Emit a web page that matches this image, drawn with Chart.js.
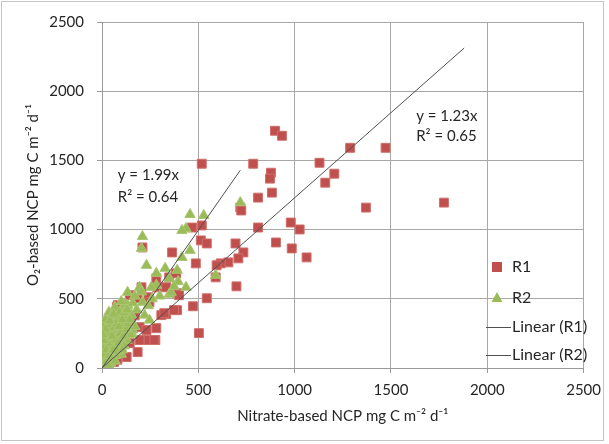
<!DOCTYPE html>
<html>
<head>
<meta charset="utf-8">
<script src="https://cdn.jsdelivr.net/npm/chart.js@4.4.0/dist/chart.umd.min.js"></script>
<style>
  body { margin: 0; background: #fff; }
  canvas { display: block; }
</style>
</head>
<body>
<canvas id="myChart" width="609" height="444"></canvas>
<script>
// R1 points [nitrate NCP, O2 NCP]
var r1Data = [
	[518,1476],[785,1476],[898,1714],[934,1678],[877,1411],[872,1368],[882,1267],[810,1231],
	[718,1159],[723,1138],[810,1015],[980,1051],[1026,1001],[903,907],[985,864],[1062,799],
	[693,900],[734,835],[708,792],[656,763],[616,756],[595,742],[590,655],[698,590],
	[544,504],[472,446],[390,418],[467,1015],[518,1030],[513,922],[544,900],[487,756],
	[364,835],[210,871],[205,583],[282,648],[349,655],[385,684],[333,583],[287,583],
	[241,511],[246,475],[390,540],[333,389],[308,382],[185,504],[144,526],[77,439],
	[56,367],[15,310],[5,200],[195,295],[231,274],[282,288],[241,202],[195,202],
	[144,180],[503,252],[277,202],[128,79],[62,43],[31,238],[1129,1483],[1206,1404],
	[1159,1339],[1288,1591],[1472,1591],[1370,1159],[1775,1195],[82,454],[272,202],[400,526],
	[374,418],[323,396],[185,115],[67,115],[20,150],[40,100],[80,60],[100,140],
	[120,250],[60,300],[30,330],[90,350],[150,330],[170,380],[110,190],[50,180],[10,120]
];

// R2 points
var r2Data = [
	[718,1195],[457,1109],[528,1102],[436,1008],[415,994],[457,850],[210,950],[205,864],
	[415,799],[231,742],[328,720],[390,706],[282,684],[590,670],[349,648],[395,625],
	[282,598],[256,583],[436,583],[195,583],[349,533],[359,547],[374,590],[133,547],
	[205,550],[210,475],[118,439],[144,403],[103,432],[36,403],[154,252],[57,180],
	[3,58],[67,439],[15,331],[133,454],[154,382],[221,382],[246,346],[159,274],
	[133,252],[10,20],[20,40],[15,80],[30,60],[40,120],[25,150],[50,100],
	[60,160],[45,200],[70,210],[35,250],[80,280],[90,230],[20,200],[55,270],
	[75,140],[100,190],[110,300],[65,330],[85,370],[40,300],[12,260],[95,320],
	[120,350],[30,180],[8,140],[60,60],[100,100],[130,200],[140,300],[25,110],
	[45,35],[70,90],[115,160],[150,240],[5,300],[18,350],[90,400],[50,380],
	[170,300],[180,420],[120,460],[160,470],[240,450],[260,500],[300,520],[170,520],[100,480],
	[5,10],[15,30],[25,50],[35,20],[10,100],[22,130],[35,90],[48,70],
	[58,130],[68,50],[80,120],[85,180],[95,250],[105,130],[110,230],[125,280],
	[135,320],[145,350],[28,220],[42,260],[52,230],[62,290],[75,320],[88,300],
	[105,350],[115,400],[130,420],[18,280],[8,200],[5,240],[40,340],[60,390]
];

// trendline end points
var fitR1X = [0, 1880];
var fitR1Y = [0, 2312];
var fitR2X = [0, 718];
var fitR2Y = [0, 1429];

var axisMin = 0;
var axisMax = 2500;
var axisStep = 500;

var xTitle = "Nitrate-based NCP mg C m\u207B\u00B2 d\u207B\u00B9";
var yTitle = "O\u2082-based NCP mg C m\u207B\u00B2 d\u207B\u00B9";

var eqR2 = ["y = 1.99x", "R\u00B2 = 0.64"];
var eqR1 = ["y = 1.23x", "R\u00B2 = 0.65"];

var FONT = "Lato, 'Liberation Sans', sans-serif";
var RED = "#c0504d";
var GREEN = "#9bbb59";
var LINE = "#505050";

function toXY(list) {
	return list.map(function(p){ return {x: p[0], y: p[1]}; });
}
function zipXY(xs, ys) {
	return xs.map(function(x, i){ return {x: x, y: ys[i]}; });
}

var extras = {
	id: "extras",
	beforeDraw: function(chart) {
		var ctx = chart.ctx;
		ctx.save();
		ctx.fillStyle = "#fff";
		ctx.fillRect(0, 0, chart.width, chart.height);
		ctx.strokeStyle = "#c4c4c4";
		ctx.lineWidth = 1;
		ctx.strokeRect(1.5, 1.5, 602, 439);
		ctx.restore();
	},
	afterDraw: function(chart) {
		var ctx = chart.ctx;
		var xs = chart.scales.x, ys = chart.scales.y;
		ctx.save();
		ctx.font = "15px " + FONT;
		ctx.fillStyle = "#262626";
		ctx.textBaseline = "middle";
		ctx.textAlign = "left";
		// equations
		ctx.fillText(eqR2[0], xs.getPixelForValue(82), ys.getPixelForValue(1390));
		ctx.fillText(eqR2[1], xs.getPixelForValue(82), ys.getPixelForValue(1231));
		ctx.fillText(eqR1[0], xs.getPixelForValue(1631), ys.getPixelForValue(1822));
		ctx.fillText(eqR1[1], xs.getPixelForValue(1631), ys.getPixelForValue(1678));

		// legend
		var lx = 497, tx = 512;
		var rows = [267, 298, 327, 355];
		ctx.fillStyle = RED;
		ctx.fillRect(lx - 5, rows[0] - 5, 10, 10);
		ctx.fillStyle = GREEN;
		ctx.beginPath();
		ctx.moveTo(lx, rows[1] - 6);
		ctx.lineTo(lx + 5.5, rows[1] + 4);
		ctx.lineTo(lx - 5.5, rows[1] + 4);
		ctx.closePath();
		ctx.fill();
		ctx.strokeStyle = LINE;
		ctx.lineWidth = 1;
		ctx.beginPath();
		ctx.moveTo(486, rows[2] + 0.5); ctx.lineTo(511, rows[2] + 0.5);
		ctx.moveTo(486, rows[3] + 0.5); ctx.lineTo(511, rows[3] + 0.5);
		ctx.stroke();
		ctx.fillStyle = "#262626";
		ctx.font = "16px " + FONT;
		ctx.fillText("R1", tx, rows[0]);
		ctx.fillText("R2", tx, rows[1]);
		ctx.fillText("Linear (R1)", tx, rows[2]);
		ctx.fillText("Linear (R2)", tx, rows[3]);
		ctx.restore();
	}
};

function plainTick(v) { return String(v); }

var ctx = document.getElementById("myChart");

var myChart = new Chart(ctx, {
	type: "scatter",
	data: {
		datasets: [
			{
				label: "R1",
				data: toXY(r1Data),
				backgroundColor: RED,
				borderColor: "#d06e6b",
				borderWidth: 1,
				pointStyle: "rect",
				pointRadius: 6.3,
				order: 4
			},
			{
				label: "R2",
				data: toXY(r2Data),
				backgroundColor: GREEN,
				borderColor: "#a9c672",
				borderWidth: 1,
				pointStyle: "triangle",
				pointRadius: 6,
				order: 3
			},
			{
				label: "Linear (R1)",
				type: "line",
				data: zipXY(fitR1X, fitR1Y),
				borderColor: LINE,
				borderWidth: 1,
				pointRadius: 0,
				fill: false,
				order: 1
			},
			{
				label: "Linear (R2)",
				type: "line",
				data: zipXY(fitR2X, fitR2Y),
				borderColor: LINE,
				borderWidth: 1,
				pointRadius: 0,
				fill: false,
				order: 2
			}
		]
	},
	options: {
		responsive: false,
		animation: false,
		layout: { padding: { left: 0, right: 19, top: 21, bottom: 0 } },
		plugins: {
			legend: { display: false },
			tooltip: { enabled: false }
		},
		scales: {
			x: {
				type: "linear",
				min: axisMin,
				max: axisMax,
				afterFit: function(s) { s.height = 76; },
				border: { color: "#9a9a9a", width: 1 },
				grid: { color: "#a8a8a8", lineWidth: 1, tickLength: 5, tickColor: "#9a9a9a" },
				ticks: { stepSize: axisStep, padding: 8, color: "#262626", font: { family: FONT, size: 15 }, maxRotation: 0, callback: plainTick },
				title: { display: true, text: xTitle, color: "#262626", font: { family: FONT, size: 15 }, padding: { top: 0, bottom: 19 } }
			},
			y: {
				type: "linear",
				min: axisMin,
				max: axisMax,
				afterFit: function(s) { s.width = 102; },
				border: { color: "#9a9a9a", width: 1 },
				grid: { color: "#a8a8a8", lineWidth: 1, tickLength: 5, tickColor: "#9a9a9a" },
				ticks: { stepSize: axisStep, padding: 13, color: "#262626", font: { family: FONT, size: 15 }, callback: plainTick },
				title: { display: true, text: yTitle, color: "#262626", font: { family: FONT, size: 15 }, padding: { top: 24, bottom: 0 } }
			}
		}
	},
	plugins: [extras]
});
</script>
</body>
</html>
